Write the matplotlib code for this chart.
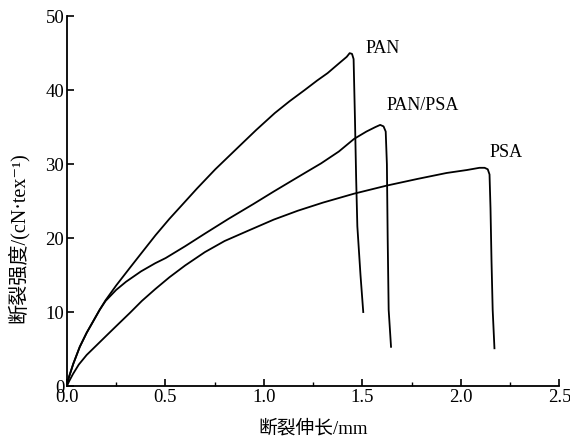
import numpy as np
import matplotlib
matplotlib.use("Agg")
import matplotlib.pyplot as plt
from matplotlib.ticker import MultipleLocator, FormatStrFormatter

plt.rcParams['font.family'] = ['Liberation Serif', 'Noto Sans CJK SC', 'DejaVu Sans']

# curves (elongation mm, tenacity cN/tex)
pan_x = [0.0, 0.01, 0.032, 0.065, 0.10, 0.132, 0.166, 0.196, 0.25, 0.32,
         0.376, 0.45, 0.52, 0.585, 0.66, 0.753, 0.87, 0.96, 1.055, 1.13, 1.206,
         1.27, 1.323, 1.38, 1.42, 1.435, 1.447, 1.455, 1.462, 1.468, 1.474,
         1.49, 1.504]
pan_y = [0.3, 1.2, 3.0, 5.3, 7.2, 8.7, 10.3, 11.6, 13.6, 16.0,
         17.9, 20.4, 22.6, 24.5, 26.7, 29.3, 32.3, 34.6, 36.9, 38.5, 40.0,
         41.3, 42.3, 43.6, 44.5, 45.0, 44.9, 44.2, 36.0, 28.0, 21.6,
         15.0, 10.0]

blend_x = [0.0, 0.01, 0.032, 0.065, 0.10, 0.132, 0.166, 0.196, 0.25, 0.30,
           0.376, 0.448, 0.501, 0.60, 0.70, 0.82, 0.946, 1.05, 1.138, 1.22,
           1.29, 1.38, 1.457, 1.52, 1.565, 1.59, 1.607, 1.618, 1.624, 1.628,
           1.633, 1.645]
blend_y = [0.3, 1.2, 3.0, 5.3, 7.2, 8.7, 10.3, 11.5, 13.0, 14.1,
           15.5, 16.6, 17.3, 18.9, 20.6, 22.6, 24.6, 26.3, 27.7, 29.0,
           30.1, 31.7, 33.4, 34.4, 35.0, 35.3, 35.1, 34.4, 30.0, 20.0,
           10.3, 5.3]

psa_x = [0.0, 0.01, 0.03, 0.06, 0.10, 0.15, 0.196, 0.25, 0.32, 0.38, 0.448,
         0.52, 0.60, 0.70, 0.80, 0.92, 1.05, 1.172, 1.30, 1.457, 1.624,
         1.78, 1.927, 2.03, 2.094, 2.12, 2.136, 2.145, 2.15, 2.155, 2.161,
         2.17]
psa_y = [0.0, 0.6, 1.6, 2.9, 4.2, 5.5, 6.7, 8.1, 9.9, 11.5, 13.1,
         14.7, 16.3, 18.1, 19.6, 21.0, 22.5, 23.7, 24.8, 26.0, 27.1,
         28.0, 28.8, 29.2, 29.5, 29.5, 29.3, 28.6, 24.0, 17.0, 10.3,
         5.1]

labels = ['PAN', 'PAN/PSA', 'PSA']
label_pos = [(1.514, 45.6), (1.62, 37.9), (2.143, 31.6)]

fig = plt.figure(figsize=(5.7, 4.44), dpi=100)
ax = fig.add_axes([0.1175, 0.1306, 0.864, 0.833])

for xs, ys in [(pan_x, pan_y), (blend_x, blend_y), (psa_x, psa_y)]:
    ax.plot(xs, ys, color='black', linewidth=1.3)

for lab, (tx, ty) in zip(labels, label_pos):
    ax.text(tx, ty, lab, fontsize=13, ha='left', va='center')

ax.set_xlim(0, 2.5)
ax.set_ylim(0, 50)
ax.xaxis.set_major_locator(MultipleLocator(0.5))
ax.xaxis.set_minor_locator(MultipleLocator(0.25))
ax.yaxis.set_major_locator(MultipleLocator(10))
ax.xaxis.set_major_formatter(FormatStrFormatter('%.1f'))

for side in ['top', 'right']:
    ax.spines[side].set_visible(False)
for side in ['left', 'bottom']:
    ax.spines[side].set_linewidth(1.3)

ax.tick_params(which='major', direction='in', length=5, width=1.2, labelsize=13.5, pad=2)
ax.tick_params(which='minor', direction='in', length=3, width=1.0)
ax.tick_params(axis='y', which='minor', left=False)

ax.set_xlabel('断裂伸长/mm', fontsize=13.5)
ax.xaxis.set_label_coords(0.5, -0.093)
ax.set_ylabel('断裂强度/(cN·tex⁻¹)', fontsize=14.5)
ax.yaxis.set_label_coords(-0.078, 0.40)

fig.savefig('out.png', dpi=100)
